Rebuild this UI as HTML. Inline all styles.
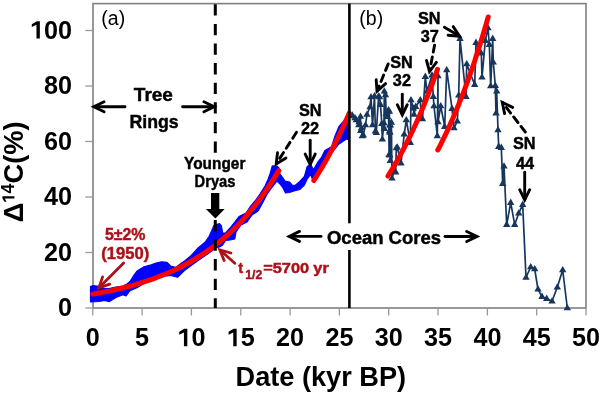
<!DOCTYPE html>
<html><head><meta charset="utf-8"><style>
html,body{margin:0;padding:0;background:#fff;width:600px;height:393px;overflow:hidden}
text{font-family:"Liberation Sans",sans-serif}
.ax{font-weight:bold;font-size:25.2px;fill:#000}
.ttl{font-weight:bold;font-size:28px;fill:#000}
.ttl2{font-weight:bold;font-size:27px;fill:#000}
.lab{font-size:19.5px;fill:#000}
.an{font-weight:bold;fill:#000;stroke:#000;stroke-width:0.45px}
</style></head><body>
<svg width="600" height="393" viewBox="0 0 600 393" style="display:block;will-change:transform;filter:blur(0.3px)">
<rect width="600" height="393" fill="#fff"/>
<rect x="93" y="3.6" width="493" height="304.4" fill="none" stroke="#7f7f7f" stroke-width="1.6"/>
<line x1="85.3" y1="308.0" x2="93" y2="308.0" stroke="#999" stroke-width="1.3"/>
<line x1="85.3" y1="252.5" x2="93" y2="252.5" stroke="#999" stroke-width="1.3"/>
<line x1="85.3" y1="197.0" x2="93" y2="197.0" stroke="#999" stroke-width="1.3"/>
<line x1="85.3" y1="141.5" x2="93" y2="141.5" stroke="#999" stroke-width="1.3"/>
<line x1="85.3" y1="86.0" x2="93" y2="86.0" stroke="#999" stroke-width="1.3"/>
<line x1="85.3" y1="30.5" x2="93" y2="30.5" stroke="#999" stroke-width="1.3"/>
<line x1="92.8" y1="308" x2="92.8" y2="315.5" stroke="#999" stroke-width="1.3"/>
<line x1="142.1" y1="308" x2="142.1" y2="315.5" stroke="#999" stroke-width="1.3"/>
<line x1="191.4" y1="308" x2="191.4" y2="315.5" stroke="#999" stroke-width="1.3"/>
<line x1="240.8" y1="308" x2="240.8" y2="315.5" stroke="#999" stroke-width="1.3"/>
<line x1="290.1" y1="308" x2="290.1" y2="315.5" stroke="#999" stroke-width="1.3"/>
<line x1="339.4" y1="308" x2="339.4" y2="315.5" stroke="#999" stroke-width="1.3"/>
<line x1="388.7" y1="308" x2="388.7" y2="315.5" stroke="#999" stroke-width="1.3"/>
<line x1="438.0" y1="308" x2="438.0" y2="315.5" stroke="#999" stroke-width="1.3"/>
<line x1="487.4" y1="308" x2="487.4" y2="315.5" stroke="#999" stroke-width="1.3"/>
<line x1="536.7" y1="308" x2="536.7" y2="315.5" stroke="#999" stroke-width="1.3"/>
<line x1="586.0" y1="308" x2="586.0" y2="315.5" stroke="#999" stroke-width="1.3"/>
<text x="72.0" y="316.0" text-anchor="end" class="ax">0</text>
<text x="72.0" y="260.5" text-anchor="end" class="ax">20</text>
<text x="72.0" y="205.0" text-anchor="end" class="ax">40</text>
<text x="72.0" y="149.5" text-anchor="end" class="ax">60</text>
<text x="72.0" y="94.0" text-anchor="end" class="ax">80</text>
<text x="72.0" y="38.5" text-anchor="end" class="ax"><tspan style="fill:none">1</tspan>00</text>
<path d="M530 0V1120L150 925V1165L560 1409H805V0Z" transform="translate(29.95,38.50) scale(0.01230,-0.01230)" fill="#000"/>
<text x="92.8" y="346.2" text-anchor="middle" class="ax">0</text>
<text x="142.1" y="346.2" text-anchor="middle" class="ax">5</text>
<text x="191.4" y="346.2" text-anchor="middle" class="ax"><tspan style="fill:none">1</tspan>0</text>
<path d="M530 0V1120L150 925V1165L560 1409H805V0Z" transform="translate(177.42,346.20) scale(0.01230,-0.01230)" fill="#000"/>
<text x="240.8" y="346.2" text-anchor="middle" class="ax"><tspan style="fill:none">1</tspan>5</text>
<path d="M530 0V1120L150 925V1165L560 1409H805V0Z" transform="translate(226.74,346.20) scale(0.01230,-0.01230)" fill="#000"/>
<text x="290.1" y="346.2" text-anchor="middle" class="ax">20</text>
<text x="339.4" y="346.2" text-anchor="middle" class="ax">25</text>
<text x="388.7" y="346.2" text-anchor="middle" class="ax">30</text>
<text x="438.0" y="346.2" text-anchor="middle" class="ax">35</text>
<text x="487.4" y="346.2" text-anchor="middle" class="ax">40</text>
<text x="536.7" y="346.2" text-anchor="middle" class="ax">45</text>
<text x="586.0" y="346.2" text-anchor="middle" class="ax">50</text>
<text x="235.6" y="386.2" class="ttl" textLength="170.5" lengthAdjust="spacingAndGlyphs">Date (kyr BP)</text>
<g transform="translate(22.8,222.3) rotate(-90)"><text x="0" y="0" class="ttl2" textLength="19.6" lengthAdjust="spacingAndGlyphs">&#916;</text><path d="M530 0V1120L150 925V1165L560 1409H805V0Z" transform="translate(19.2,-8.4) scale(0.008545,-0.008545)" fill="#000"/><text x="28.93" y="-8.4" class="ttl2" style="font-size:17.5px">4</text><text x="38.8" y="0" class="ttl2" textLength="62.2" lengthAdjust="spacingAndGlyphs">C(%)</text></g>
<polygon points="90.5,286.5 93.0,285.5 99.0,286.4 105.0,288.5 109.0,288.5 116.0,287.0 123.0,286.0 127.0,284.0 130.0,281.5 134.0,275.0 137.0,271.0 144.0,266.8 150.0,265.2 156.0,263.0 161.5,261.8 167.0,262.3 170.6,266.0 175.8,267.4 180.9,263.6 184.6,261.0 191.2,255.5 198.1,248.0 205.0,242.3 209.0,236.7 212.0,230.0 214.0,225.3 219.5,223.7 221.5,226.0 222.6,232.9 225.6,233.0 230.0,228.0 234.8,222.0 239.0,216.5 243.0,214.5 246.0,213.0 250.0,207.0 255.0,201.0 260.0,194.0 265.0,186.0 268.0,179.5 270.0,174.0 272.3,165.9 276.9,166.0 279.0,168.0 280.0,174.0 283.0,178.0 285.0,181.0 289.5,182.0 292.0,185.0 295.0,185.5 299.8,181.5 304.4,176.5 307.2,166.5 310.7,164.2 313.5,169.9 318.0,161.9 321.6,157.3 324.9,150.5 331.5,146.9 335.0,136.0 339.0,126.5 346.4,118.0 349.0,114.0 349.0,140.0 346.4,139.0 339.0,143.9 331.5,153.0 325.0,160.0 320.0,170.0 316.0,178.0 313.5,182.0 310.7,174.5 307.2,179.0 304.4,185.0 299.8,189.5 294.0,191.0 289.5,192.5 285.5,193.0 283.0,188.0 280.0,184.0 277.0,181.0 270.0,190.0 266.6,195.0 262.0,204.0 258.0,211.0 252.0,215.0 247.0,222.0 241.0,225.0 236.0,232.0 234.8,239.0 230.0,240.0 225.6,240.5 222.6,245.0 219.5,247.0 215.0,248.0 213.0,250.0 209.0,253.0 205.0,255.8 198.1,260.5 191.2,265.5 184.4,270.5 177.5,277.2 170.6,275.5 167.0,276.0 161.5,276.0 156.0,278.0 150.0,280.0 144.0,283.6 137.0,287.8 130.0,290.6 126.0,296.0 123.0,294.8 116.0,297.5 109.0,301.7 105.0,300.5 99.0,301.5 90.5,302.0" fill="#0000ff" stroke="#0000ff" stroke-width="1.2" stroke-linejoin="round"/>
<polyline points="349.6,116.0 352.3,115.3 355.0,118.0 356.3,120.0 358.8,125.0 359.0,122.0 360.5,116.5 360.7,130.7 361.5,128.0 362.3,136.0 363.3,135.1 365.5,125.0 367.0,114.5 370.0,107.0 371.0,97.0 372.5,125.0 374.5,96.0 375.4,131.3 376.3,132.7 378.6,96.3 379.5,97.0 380.5,104.6 381.8,123.7 382.3,139.3 384.0,123.0 384.3,91.3 384.4,128.7 385.5,95.0 386.2,113.5 387.5,116.6 388.5,110.0 389.1,154.7 389.4,111.5 389.4,131.3 389.7,155.3 389.9,125.0 389.9,132.4 390.3,125.3 390.3,160.7 391.4,122.4 392.0,178.3 394.3,170.7 395.7,172.1 396.3,148.0 397.3,147.3 401.0,163.3 404.2,134.3 406.3,120.0 410.3,142.7 411.0,100.0 413.3,108.3 414.0,114.4 415.7,106.7 420.3,100.0 421.3,118.7 422.5,119.0 425.3,76.7 427.0,91.5 432.0,75.3 433.3,96.7 434.0,106.0 437.3,136.0 438.0,76.0 438.0,122.0 440.7,106.0 444.7,126.7 446.7,70.0 452.0,108.7 454.0,128.0 457.3,121.3 458.7,95.3 460.0,38.7 466.0,96.7 466.7,64.0 474.7,84.7 476.0,42.7 481.3,53.3 482.0,77.3 485.3,40.7 488.0,28.0 489.3,44.7 490.7,86.0 492.7,38.7 493.3,62.3 495.3,85.7 496.0,113.3 496.7,91.3 498.0,130.0 498.7,146.7 501.3,147.7 502.7,183.7 504.0,166.3 506.7,224.7 510.7,202.7 514.7,224.7 518.7,213.3 522.7,204.7 526.0,277.5 530.7,267.0 534.7,269.0 538.0,289.3 542.0,296.7 546.7,298.7 552.0,301.3 557.3,287.3 562.7,270.0 567.3,308.0" fill="none" stroke="#17365d" stroke-width="1.7" stroke-linejoin="round"/>
<path d="M349.6,111.9 L353.3,118.3 L345.9,118.3Z" fill="#17365d"/>
<path d="M352.3,111.2 L356.0,117.6 L348.6,117.6Z" fill="#17365d"/>
<path d="M355.0,113.9 L358.7,120.3 L351.3,120.3Z" fill="#17365d"/>
<path d="M356.3,115.9 L360.0,122.3 L352.6,122.3Z" fill="#17365d"/>
<path d="M358.8,120.9 L362.5,127.3 L355.1,127.3Z" fill="#17365d"/>
<path d="M359.0,117.9 L362.7,124.3 L355.3,124.3Z" fill="#17365d"/>
<path d="M360.5,112.4 L364.2,118.8 L356.8,118.8Z" fill="#17365d"/>
<path d="M360.7,126.6 L364.4,133.0 L357.0,133.0Z" fill="#17365d"/>
<path d="M361.5,123.9 L365.2,130.3 L357.8,130.3Z" fill="#17365d"/>
<path d="M362.3,131.9 L366.0,138.3 L358.6,138.3Z" fill="#17365d"/>
<path d="M363.3,131.0 L367.0,137.4 L359.6,137.4Z" fill="#17365d"/>
<path d="M365.5,120.9 L369.2,127.3 L361.8,127.3Z" fill="#17365d"/>
<path d="M367.0,110.4 L370.7,116.8 L363.3,116.8Z" fill="#17365d"/>
<path d="M370.0,102.9 L373.7,109.3 L366.3,109.3Z" fill="#17365d"/>
<path d="M371.0,92.9 L374.7,99.3 L367.3,99.3Z" fill="#17365d"/>
<path d="M372.5,120.9 L376.2,127.3 L368.8,127.3Z" fill="#17365d"/>
<path d="M374.5,91.9 L378.2,98.3 L370.8,98.3Z" fill="#17365d"/>
<path d="M375.4,127.2 L379.1,133.6 L371.7,133.6Z" fill="#17365d"/>
<path d="M376.3,128.6 L380.0,135.0 L372.6,135.0Z" fill="#17365d"/>
<path d="M378.6,92.2 L382.3,98.6 L374.9,98.6Z" fill="#17365d"/>
<path d="M379.5,92.9 L383.2,99.3 L375.8,99.3Z" fill="#17365d"/>
<path d="M380.5,100.5 L384.2,106.9 L376.8,106.9Z" fill="#17365d"/>
<path d="M381.8,119.6 L385.5,126.0 L378.1,126.0Z" fill="#17365d"/>
<path d="M382.3,135.2 L386.0,141.6 L378.6,141.6Z" fill="#17365d"/>
<path d="M384.0,118.9 L387.7,125.3 L380.3,125.3Z" fill="#17365d"/>
<path d="M384.3,87.2 L388.0,93.6 L380.6,93.6Z" fill="#17365d"/>
<path d="M384.4,124.6 L388.1,131.0 L380.7,131.0Z" fill="#17365d"/>
<path d="M385.5,90.9 L389.2,97.3 L381.8,97.3Z" fill="#17365d"/>
<path d="M386.2,109.4 L389.9,115.8 L382.5,115.8Z" fill="#17365d"/>
<path d="M387.5,112.5 L391.2,118.9 L383.8,118.9Z" fill="#17365d"/>
<path d="M388.5,105.9 L392.2,112.3 L384.8,112.3Z" fill="#17365d"/>
<path d="M389.1,150.6 L392.8,157.0 L385.4,157.0Z" fill="#17365d"/>
<path d="M389.4,107.4 L393.1,113.8 L385.7,113.8Z" fill="#17365d"/>
<path d="M389.4,127.2 L393.1,133.6 L385.7,133.6Z" fill="#17365d"/>
<path d="M389.7,151.2 L393.4,157.6 L386.0,157.6Z" fill="#17365d"/>
<path d="M389.9,120.9 L393.6,127.3 L386.2,127.3Z" fill="#17365d"/>
<path d="M389.9,128.3 L393.6,134.7 L386.2,134.7Z" fill="#17365d"/>
<path d="M390.3,121.2 L394.0,127.6 L386.6,127.6Z" fill="#17365d"/>
<path d="M390.3,156.6 L394.0,163.0 L386.6,163.0Z" fill="#17365d"/>
<path d="M391.4,118.3 L395.1,124.7 L387.7,124.7Z" fill="#17365d"/>
<path d="M392.0,174.2 L395.7,180.6 L388.3,180.6Z" fill="#17365d"/>
<path d="M394.3,166.6 L398.0,173.0 L390.6,173.0Z" fill="#17365d"/>
<path d="M395.7,168.0 L399.4,174.4 L392.0,174.4Z" fill="#17365d"/>
<path d="M396.3,143.9 L400.0,150.3 L392.6,150.3Z" fill="#17365d"/>
<path d="M397.3,143.2 L401.0,149.6 L393.6,149.6Z" fill="#17365d"/>
<path d="M401.0,159.2 L404.7,165.6 L397.3,165.6Z" fill="#17365d"/>
<path d="M404.2,130.2 L407.9,136.6 L400.5,136.6Z" fill="#17365d"/>
<path d="M406.3,115.9 L410.0,122.3 L402.6,122.3Z" fill="#17365d"/>
<path d="M410.3,138.6 L414.0,145.0 L406.6,145.0Z" fill="#17365d"/>
<path d="M411.0,95.9 L414.7,102.3 L407.3,102.3Z" fill="#17365d"/>
<path d="M413.3,104.2 L417.0,110.6 L409.6,110.6Z" fill="#17365d"/>
<path d="M414.0,110.3 L417.7,116.7 L410.3,116.7Z" fill="#17365d"/>
<path d="M415.7,102.6 L419.4,109.0 L412.0,109.0Z" fill="#17365d"/>
<path d="M420.3,95.9 L424.0,102.3 L416.6,102.3Z" fill="#17365d"/>
<path d="M421.3,114.6 L425.0,121.0 L417.6,121.0Z" fill="#17365d"/>
<path d="M422.5,114.9 L426.2,121.3 L418.8,121.3Z" fill="#17365d"/>
<path d="M425.3,72.6 L429.0,79.0 L421.6,79.0Z" fill="#17365d"/>
<path d="M427.0,87.4 L430.7,93.8 L423.3,93.8Z" fill="#17365d"/>
<path d="M432.0,71.2 L435.7,77.6 L428.3,77.6Z" fill="#17365d"/>
<path d="M433.3,92.6 L437.0,99.0 L429.6,99.0Z" fill="#17365d"/>
<path d="M434.0,101.9 L437.7,108.3 L430.3,108.3Z" fill="#17365d"/>
<path d="M437.3,131.9 L441.0,138.3 L433.6,138.3Z" fill="#17365d"/>
<path d="M438.0,71.9 L441.7,78.3 L434.3,78.3Z" fill="#17365d"/>
<path d="M438.0,117.9 L441.7,124.3 L434.3,124.3Z" fill="#17365d"/>
<path d="M440.7,101.9 L444.4,108.3 L437.0,108.3Z" fill="#17365d"/>
<path d="M444.7,122.6 L448.4,129.0 L441.0,129.0Z" fill="#17365d"/>
<path d="M446.7,65.9 L450.4,72.3 L443.0,72.3Z" fill="#17365d"/>
<path d="M452.0,104.6 L455.7,111.0 L448.3,111.0Z" fill="#17365d"/>
<path d="M454.0,123.9 L457.7,130.3 L450.3,130.3Z" fill="#17365d"/>
<path d="M457.3,117.2 L461.0,123.6 L453.6,123.6Z" fill="#17365d"/>
<path d="M458.7,91.2 L462.4,97.6 L455.0,97.6Z" fill="#17365d"/>
<path d="M460.0,34.6 L463.7,41.0 L456.3,41.0Z" fill="#17365d"/>
<path d="M466.0,92.6 L469.7,99.0 L462.3,99.0Z" fill="#17365d"/>
<path d="M466.7,59.9 L470.4,66.3 L463.0,66.3Z" fill="#17365d"/>
<path d="M474.7,80.6 L478.4,87.0 L471.0,87.0Z" fill="#17365d"/>
<path d="M476.0,38.6 L479.7,45.0 L472.3,45.0Z" fill="#17365d"/>
<path d="M481.3,49.2 L485.0,55.6 L477.6,55.6Z" fill="#17365d"/>
<path d="M482.0,73.2 L485.7,79.6 L478.3,79.6Z" fill="#17365d"/>
<path d="M485.3,36.6 L489.0,43.0 L481.6,43.0Z" fill="#17365d"/>
<path d="M488.0,23.9 L491.7,30.3 L484.3,30.3Z" fill="#17365d"/>
<path d="M489.3,40.6 L493.0,47.0 L485.6,47.0Z" fill="#17365d"/>
<path d="M490.7,81.9 L494.4,88.3 L487.0,88.3Z" fill="#17365d"/>
<path d="M492.7,34.6 L496.4,41.0 L489.0,41.0Z" fill="#17365d"/>
<path d="M493.3,58.2 L497.0,64.6 L489.6,64.6Z" fill="#17365d"/>
<path d="M495.3,81.6 L499.0,88.0 L491.6,88.0Z" fill="#17365d"/>
<path d="M496.0,109.2 L499.7,115.6 L492.3,115.6Z" fill="#17365d"/>
<path d="M496.7,87.2 L500.4,93.6 L493.0,93.6Z" fill="#17365d"/>
<path d="M498.0,125.9 L501.7,132.3 L494.3,132.3Z" fill="#17365d"/>
<path d="M498.7,142.6 L502.4,149.0 L495.0,149.0Z" fill="#17365d"/>
<path d="M501.3,143.6 L505.0,150.0 L497.6,150.0Z" fill="#17365d"/>
<path d="M502.7,179.6 L506.4,186.0 L499.0,186.0Z" fill="#17365d"/>
<path d="M504.0,162.2 L507.7,168.6 L500.3,168.6Z" fill="#17365d"/>
<path d="M506.7,220.6 L510.4,227.0 L503.0,227.0Z" fill="#17365d"/>
<path d="M510.7,198.6 L514.4,205.0 L507.0,205.0Z" fill="#17365d"/>
<path d="M514.7,220.6 L518.4,227.0 L511.0,227.0Z" fill="#17365d"/>
<path d="M518.7,209.2 L522.4,215.6 L515.0,215.6Z" fill="#17365d"/>
<path d="M522.7,200.6 L526.4,207.0 L519.0,207.0Z" fill="#17365d"/>
<path d="M526.0,273.4 L529.7,279.8 L522.3,279.8Z" fill="#17365d"/>
<path d="M530.7,262.9 L534.4,269.3 L527.0,269.3Z" fill="#17365d"/>
<path d="M534.7,264.9 L538.4,271.3 L531.0,271.3Z" fill="#17365d"/>
<path d="M538.0,285.2 L541.7,291.6 L534.3,291.6Z" fill="#17365d"/>
<path d="M542.0,292.6 L545.7,299.0 L538.3,299.0Z" fill="#17365d"/>
<path d="M546.7,294.6 L550.4,301.0 L543.0,301.0Z" fill="#17365d"/>
<path d="M552.0,297.2 L555.7,303.6 L548.3,303.6Z" fill="#17365d"/>
<path d="M557.3,283.2 L561.0,289.6 L553.6,289.6Z" fill="#17365d"/>
<path d="M562.7,265.9 L566.4,272.3 L559.0,272.3Z" fill="#17365d"/>
<path d="M567.3,303.9 L571.0,310.3 L563.6,310.3Z" fill="#17365d"/>
<polyline points="92.8,294.1 97.4,293.3 102.1,292.4 106.7,291.5 111.4,290.6 116.0,289.5 120.7,288.4 125.3,287.3 130.0,286.1 134.6,284.8 139.3,283.4 143.9,281.9 148.6,280.4 153.2,278.8 157.9,277.0 162.5,275.2 167.2,273.3 171.8,271.2 176.5,269.1 181.1,266.8 185.8,264.3 190.4,261.8 195.1,259.0 199.7,256.2 204.4,253.1 209.0,249.9 213.7,246.4 218.3,242.8 223.0,239.0 227.6,234.9 232.3,230.6 236.9,226.0 241.5,221.2 246.2,216.1 250.8,210.6 255.5,204.9 260.1,198.8 264.8,192.4 269.4,185.5 274.1,178.3 278.7,170.7" fill="none" stroke="#ff0000" stroke-width="5" stroke-linecap="round" stroke-linejoin="round"/>
<polyline points="313.8,180.5 315.0,178.7 316.2,176.8 317.3,175.0 318.5,173.1 319.7,171.2 320.9,169.2 322.1,167.2 323.2,165.2 324.4,163.2 325.6,161.2 326.8,159.1 328.0,156.9 329.1,154.8 330.3,152.6 331.5,150.4 332.7,148.2 333.9,145.9 335.0,143.6 336.2,141.2 337.4,138.9 338.6,136.5 339.8,134.0 340.9,131.5 342.1,129.0 343.3,126.5 344.5,123.9 345.7,121.3 346.8,118.6 348.0,115.9 349.2,113.2" fill="none" stroke="#ff0000" stroke-width="5" stroke-linecap="round" stroke-linejoin="round"/>
<polyline points="388.0,176.0 389.6,173.4 391.3,170.7 392.9,167.9 394.6,165.2 396.2,162.3 397.9,159.4 399.6,156.4 401.2,153.4 402.9,150.3 404.5,147.2 406.1,144.0 407.8,140.7 409.4,137.4 411.1,134.0 412.8,130.5 414.4,127.0 416.1,123.3 417.7,119.7 419.4,115.9 421.0,112.1 422.6,108.2 424.3,104.2 425.9,100.1 427.6,96.0 429.2,91.7 430.9,87.4 432.6,83.0 434.2,78.5 435.9,74.0 437.5,69.3" fill="none" stroke="#ff0000" stroke-width="5" stroke-linecap="round" stroke-linejoin="round"/>
<polyline points="437.8,150.0 439.5,146.8 441.2,143.4 442.8,140.0 444.5,136.6 446.2,133.1 447.9,129.5 449.6,125.8 451.2,122.1 452.9,118.2 454.6,114.3 456.3,110.3 458.0,106.3 459.6,102.1 461.3,97.9 463.0,93.6 464.7,89.2 466.4,84.7 468.0,80.1 469.7,75.4 471.4,70.6 473.1,65.7 474.8,60.7 476.4,55.6 478.1,50.5 479.8,45.2 481.5,39.8 483.2,34.2 484.8,28.6 486.5,22.9 488.2,17.0" fill="none" stroke="#ff0000" stroke-width="5" stroke-linecap="round" stroke-linejoin="round"/>
<line x1="215.3" y1="4.3" x2="215.3" y2="308" stroke="#000" stroke-width="3" stroke-dasharray="11.3 8.3"/>
<line x1="349.4" y1="3.6" x2="349.4" y2="223.3" stroke="#000" stroke-width="2.6"/>
<line x1="349.4" y1="250" x2="349.4" y2="308" stroke="#000" stroke-width="2.6"/>
<text x="101.3" y="25" class="lab">(a)</text>
<text x="359.3" y="25" class="lab">(b)</text>
<text x="153.4" y="100.7" text-anchor="middle" class="an" font-size="19">Tree</text>
<text x="154.1" y="127.6" text-anchor="middle" class="an" font-size="19" textLength="49.2" lengthAdjust="spacingAndGlyphs">Rings</text>
<line x1="125.0" y1="106.8" x2="94.6" y2="106.8" stroke="#000" stroke-width="2.9" stroke-linecap="round"/>
<polyline points="104.1,111.8 93.8,106.8 104.1,101.8" fill="none" stroke="#000" stroke-width="2.9" stroke-linecap="round" stroke-linejoin="miter"/>
<line x1="182.6" y1="106.8" x2="213.4" y2="106.8" stroke="#000" stroke-width="2.9" stroke-linecap="round"/>
<polyline points="203.9,101.8 214.2,106.8 203.9,111.8" fill="none" stroke="#000" stroke-width="2.9" stroke-linecap="round" stroke-linejoin="miter"/>
<rect x="183" y="154.5" width="64" height="38" fill="#fff"/>
<text x="214.75" y="169.3" text-anchor="middle" class="an" font-size="16.8" textLength="61.3" lengthAdjust="spacingAndGlyphs">Younger</text>
<text x="215" y="187.1" text-anchor="middle" class="an" font-size="16" textLength="40.8" lengthAdjust="spacingAndGlyphs">Dryas</text>
<path d="M211,193 L219.3,193 L219.3,209 L224.6,209 L215.4,218.4 L205.9,209 L211,209Z" fill="#000"/>
<text x="310.2" y="115.9" text-anchor="middle" class="an" font-size="16.3">SN</text>
<text x="310.1" y="134" text-anchor="middle" class="an" font-size="16.3">22</text>
<line x1="296.5" y1="132.3" x2="276.6" y2="163.3" stroke="#000" stroke-width="2.9" stroke-linecap="round" stroke-dasharray="7 5"/>
<polyline points="286.0,158.0 276.2,164.0 277.5,152.6" fill="none" stroke="#000" stroke-width="2.9" stroke-linecap="round" stroke-linejoin="miter"/>
<line x1="310.2" y1="140.3" x2="310.2" y2="163.6" stroke="#000" stroke-width="2.9" stroke-linecap="round"/>
<polyline points="315.2,154.1 310.2,164.4 305.2,154.1" fill="none" stroke="#000" stroke-width="2.9" stroke-linecap="round" stroke-linejoin="miter"/>
<text x="401.5" y="67.7" text-anchor="middle" class="an" font-size="16.3">SN</text>
<text x="401.9" y="86.3" text-anchor="middle" class="an" font-size="16.3">32</text>
<line x1="388.2" y1="63.9" x2="377.3" y2="90.6" stroke="#000" stroke-width="2.9" stroke-linecap="round" stroke-dasharray="7 5"/>
<polyline points="385.6,83.6 377.0,91.3 376.2,79.8" fill="none" stroke="#000" stroke-width="2.9" stroke-linecap="round" stroke-linejoin="miter"/>
<line x1="402.3" y1="94.2" x2="402.3" y2="114.2" stroke="#000" stroke-width="2.9" stroke-linecap="round"/>
<polyline points="407.3,104.7 402.3,115.0 397.3,104.7" fill="none" stroke="#000" stroke-width="2.9" stroke-linecap="round" stroke-linejoin="miter"/>
<text x="429.2" y="23.7" text-anchor="middle" class="an" font-size="16.3">SN</text>
<text x="429.7" y="42.4" text-anchor="middle" class="an" font-size="16.3">37</text>
<line x1="444.4" y1="27.3" x2="458.9" y2="35.8" stroke="#000" stroke-width="2.9" stroke-linecap="round"/>
<polyline points="453.2,26.6 459.6,36.2 448.1,35.3" fill="none" stroke="#000" stroke-width="2.9" stroke-linecap="round" stroke-linejoin="miter"/>
<line x1="434.6" y1="45.1" x2="429.7" y2="70.7" stroke="#000" stroke-width="2.9" stroke-linecap="round" stroke-dasharray="7 5"/>
<polyline points="436.4,62.3 429.5,71.5 426.5,60.4" fill="none" stroke="#000" stroke-width="2.9" stroke-linecap="round" stroke-linejoin="miter"/>
<text x="524.3" y="149" text-anchor="middle" class="an" font-size="16.3">SN</text>
<text x="525" y="169" text-anchor="middle" class="an" font-size="16.3">44</text>
<line x1="525.3" y1="132.0" x2="502.8" y2="102.9" stroke="#000" stroke-width="2.9" stroke-linecap="round" stroke-dasharray="7 5"/>
<polyline points="504.6,113.6 502.3,102.3 512.6,107.4" fill="none" stroke="#000" stroke-width="2.9" stroke-linecap="round" stroke-linejoin="miter"/>
<line x1="524.7" y1="172.3" x2="524.7" y2="199.2" stroke="#000" stroke-width="2.9" stroke-linecap="round"/>
<polyline points="529.7,189.7 524.7,200.0 519.7,189.7" fill="none" stroke="#000" stroke-width="2.9" stroke-linecap="round" stroke-linejoin="miter"/>
<text x="384" y="244" text-anchor="middle" class="an" font-size="18" textLength="114" lengthAdjust="spacingAndGlyphs">Ocean Cores</text>
<line x1="321.0" y1="236.4" x2="290.0" y2="236.4" stroke="#000" stroke-width="2.9" stroke-linecap="round"/>
<polyline points="299.5,241.4 289.2,236.4 299.5,231.4" fill="none" stroke="#000" stroke-width="2.9" stroke-linecap="round" stroke-linejoin="miter"/>
<line x1="445.0" y1="236.5" x2="476.2" y2="236.5" stroke="#000" stroke-width="2.9" stroke-linecap="round"/>
<polyline points="466.7,231.5 477.0,236.5 466.7,241.5" fill="none" stroke="#000" stroke-width="2.9" stroke-linecap="round" stroke-linejoin="miter"/>
<text x="105" y="239.8" class="an" font-size="16" style="fill:#ad1018;stroke:#ad1018" textLength="40.5" lengthAdjust="spacingAndGlyphs">5±2%</text>
<text x="101.2" y="258.6" class="an" font-size="17" style="fill:#ad1018;stroke:#ad1018" textLength="48" lengthAdjust="spacingAndGlyphs">(1950)</text>
<line x1="123.6" y1="263.1" x2="99.5" y2="287.2" stroke="#ad1018" stroke-width="2.8" stroke-linecap="round"/>
<polyline points="109.8,284.1 98.9,287.8 102.6,276.9" fill="none" stroke="#ad1018" stroke-width="2.8" stroke-linecap="round" stroke-linejoin="miter"/>
<text x="238.3" y="273" class="an" font-size="14.5" style="fill:#ad1018;stroke:#ad1018">t</text>
<text x="245.2" y="278.6" class="an" font-size="12.8" style="fill:#ad1018;stroke:#ad1018" textLength="17" lengthAdjust="spacingAndGlyphs">1/2</text>
<text x="263.2" y="273" class="an" font-size="14.5" style="fill:#ad1018;stroke:#ad1018" textLength="46" lengthAdjust="spacingAndGlyphs">=5700</text>
<text x="313.3" y="273" class="an" font-size="14.5" style="fill:#ad1018;stroke:#ad1018" textLength="15.5" lengthAdjust="spacingAndGlyphs">yr</text>
<line x1="234.8" y1="263.3" x2="220.4" y2="250.3" stroke="#ad1018" stroke-width="2.8" stroke-linecap="round"/>
<polyline points="224.1,260.5 219.8,249.8 230.9,253.0" fill="none" stroke="#ad1018" stroke-width="2.8" stroke-linecap="round" stroke-linejoin="miter"/>
</svg>
</body></html>
